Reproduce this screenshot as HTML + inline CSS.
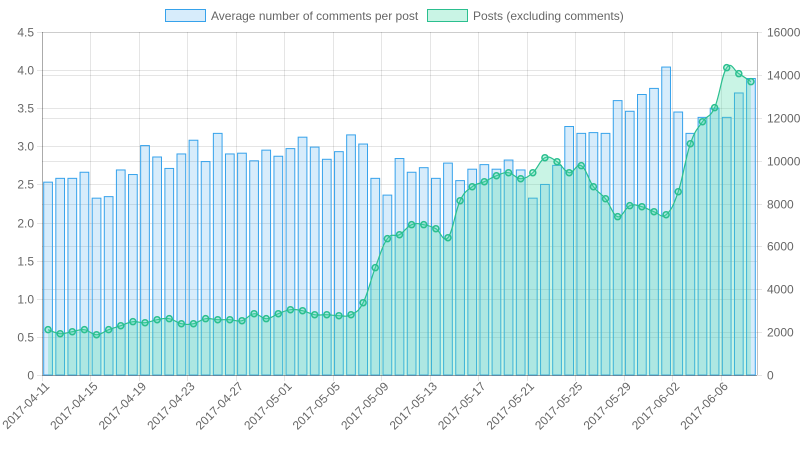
<!DOCTYPE html>
<html><head><meta charset="utf-8"><style>
body{margin:0;background:#fff;font-family:"Liberation Sans",sans-serif}
svg{display:block}
</style></head><body>
<svg id="chart" width="800" height="450" xmlns="http://www.w3.org/2000/svg" font-family="Liberation Sans, sans-serif" font-size="12" fill="#666">
<g>
 <g>
  <rect x="165.5" y="9.5" width="40" height="12" fill="rgba(54,162,235,0.2)" stroke="rgb(54,162,235)" stroke-width="1"/>
  <text x="211" y="20" fill="#666">Average number of comments per post</text>
 </g>
 <g>
  <rect x="427.5" y="9.5" width="40" height="12" fill="rgba(75,220,170,0.3)" stroke="rgb(43,191,143)" stroke-width="1"/>
  <text x="473" y="20" fill="#666">Posts (excluding comments)</text>
 </g>
</g>
<g id="grid"></g>
<g id="bars"></g>
<g id="area"></g>
<g id="axes"></g>
</svg>
<script>
const startDate = "2017-04-11";
const avgComments = [2.53,2.58,2.58,2.66,2.32,2.34,2.69,2.63,3.01,2.86,2.71,2.90,3.08,2.80,3.17,2.90,2.91,2.81,2.95,2.87,2.97,3.12,2.99,2.83,2.93,3.15,3.03,2.58,2.36,2.84,2.66,2.72,2.58,2.78,2.55,2.70,2.76,2.70,2.82,2.69,2.32,2.50,2.75,3.26,3.17,3.18,3.17,3.60,3.46,3.68,3.76,4.04,3.45,3.17,3.38,3.50,3.38,3.70,3.89];
const posts = [2115,1927,2020,2115,1880,2115,2300,2487,2440,2580,2627,2393,2393,2627,2580,2580,2533,2860,2627,2860,3046,3000,2813,2813,2766,2813,3373,5006,6359,6545,7012,7012,6825,6405,8131,8784,9017,9297,9437,9157,9437,10137,9950,9437,9764,8784,8224,7385,7898,7851,7618,7478,8551,10790,11816,12470,14336,14056,13683];
const leftTicks = ["0","0.5","1.0","1.5","2.0","2.5","3.0","3.5","4.0","4.5"];
const rightTicks = ["0","2000","4000","6000","8000","10000","12000","14000","16000"];

const NS="http://www.w3.org/2000/svg";
const L=42,R=757,T=32,B=375;
const n=avgComments.length, cw=(R-L)/n;
const xC=i=>L+cw*(i+0.5);
const yL=v=>B-(v/4.5)*(B-T);
const yR=v=>B-(v/16000)*(B-T);
function mk(tag,attrs,parent){const e=document.createElementNS(NS,tag);for(const k in attrs)e.setAttribute(k,attrs[k]);parent.appendChild(e);return e;}
const grid=document.getElementById('grid'),bars=document.getElementById('bars'),area=document.getElementById('area'),axes=document.getElementById('axes');
const labels=avgComments.map((_,i)=>{const d=new Date(startDate+"T00:00:00Z");d.setUTCDate(d.getUTCDate()+i);return d.toISOString().slice(0,10);});

leftTicks.forEach((t,i)=>{const v=parseFloat(t),y=Math.round(yL(v))+0.5;
 const g=mk('line',{x1:L-5,x2:R,y1:y,y2:y,stroke:'rgba(0,0,0,0.1)'},grid);
 
 
 const tx=mk('text',{x:L-8,y:y+4,'text-anchor':'end'},axes);tx.textContent=t;
 
 
});
rightTicks.forEach((t,i)=>{const v=parseFloat(t),y=Math.round(yR(v))+0.5;
 const g=mk('line',{x1:L,x2:R+5,y1:y,y2:y,stroke:'rgba(0,0,0,0.1)'},grid);
 
 
 const tx=mk('text',{x:R+10,y:y+4,'text-anchor':'start'},axes);tx.textContent=t;
 
 
});
for(let i=0;i<n;i+=4){const x=Math.round(L+cw*i)+0.5;
 const g=mk('line',{x1:x,x2:x,y1:T,y2:B+6,stroke:'rgba(0,0,0,0.1)'},grid);
 
 
 const cx=xC(i)+2,cy=B+12;
 const tx=mk('text',{x:cx,y:cy,'text-anchor':'end',transform:`rotate(-45 ${cx} ${cy})`},axes);tx.textContent=labels[i];
 
 
}
const bw=cw*0.72;
avgComments.forEach((v,i)=>{const y=yL(v);
 const r=mk('rect',{x:xC(i)-bw/2,y:y,width:bw,height:B-y,fill:'rgba(54,162,235,0.2)',stroke:'rgb(54,162,235)','stroke-width':1},bars);
 
 
});
const pts=posts.map((v,i)=>[xC(i),yR(v)]);
let d=`M${pts[0][0]},${pts[0][1]}`;
for(let i=0;i<pts.length-1;i++){const p0=pts[Math.max(i-1,0)],p1=pts[i],p2=pts[i+1],p3=pts[Math.min(i+2,pts.length-1)],k=0.4/2;
 const c1=[p1[0]+(p2[0]-p0[0])*k,p1[1]+(p2[1]-p0[1])*k],c2=[p2[0]-(p3[0]-p1[0])*k,p2[1]-(p3[1]-p1[1])*k];
 d+=` C${c1[0]},${c1[1]} ${c2[0]},${c2[1]} ${p2[0]},${p2[1]}`;}
const fill=mk('path',{d:d+` L${pts[pts.length-1][0]},${B} L${pts[0][0]},${B} Z`,fill:'rgba(75,220,170,0.3)'},area);


const line=mk('path',{d:d,fill:'none',stroke:'rgb(43,191,143)','stroke-width':1.2},area);


pts.forEach((p,i)=>{const c=mk('circle',{cx:p[0],cy:p[1],r:3,fill:'rgba(75,220,170,0.3)',stroke:'rgb(43,191,143)','stroke-width':1.5},area);
 
 
});
mk('line',{x1:L+0.5,x2:L+0.5,y1:T,y2:B,stroke:'rgba(0,0,0,0.25)'},axes);
mk('line',{x1:R+0.5,x2:R+0.5,y1:T,y2:B,stroke:'rgba(0,0,0,0.25)'},axes);
mk('line',{x1:L,x2:R,y1:B+0.5,y2:B+0.5,stroke:'rgba(0,0,0,0.25)'},axes);
</script>
</body></html>
